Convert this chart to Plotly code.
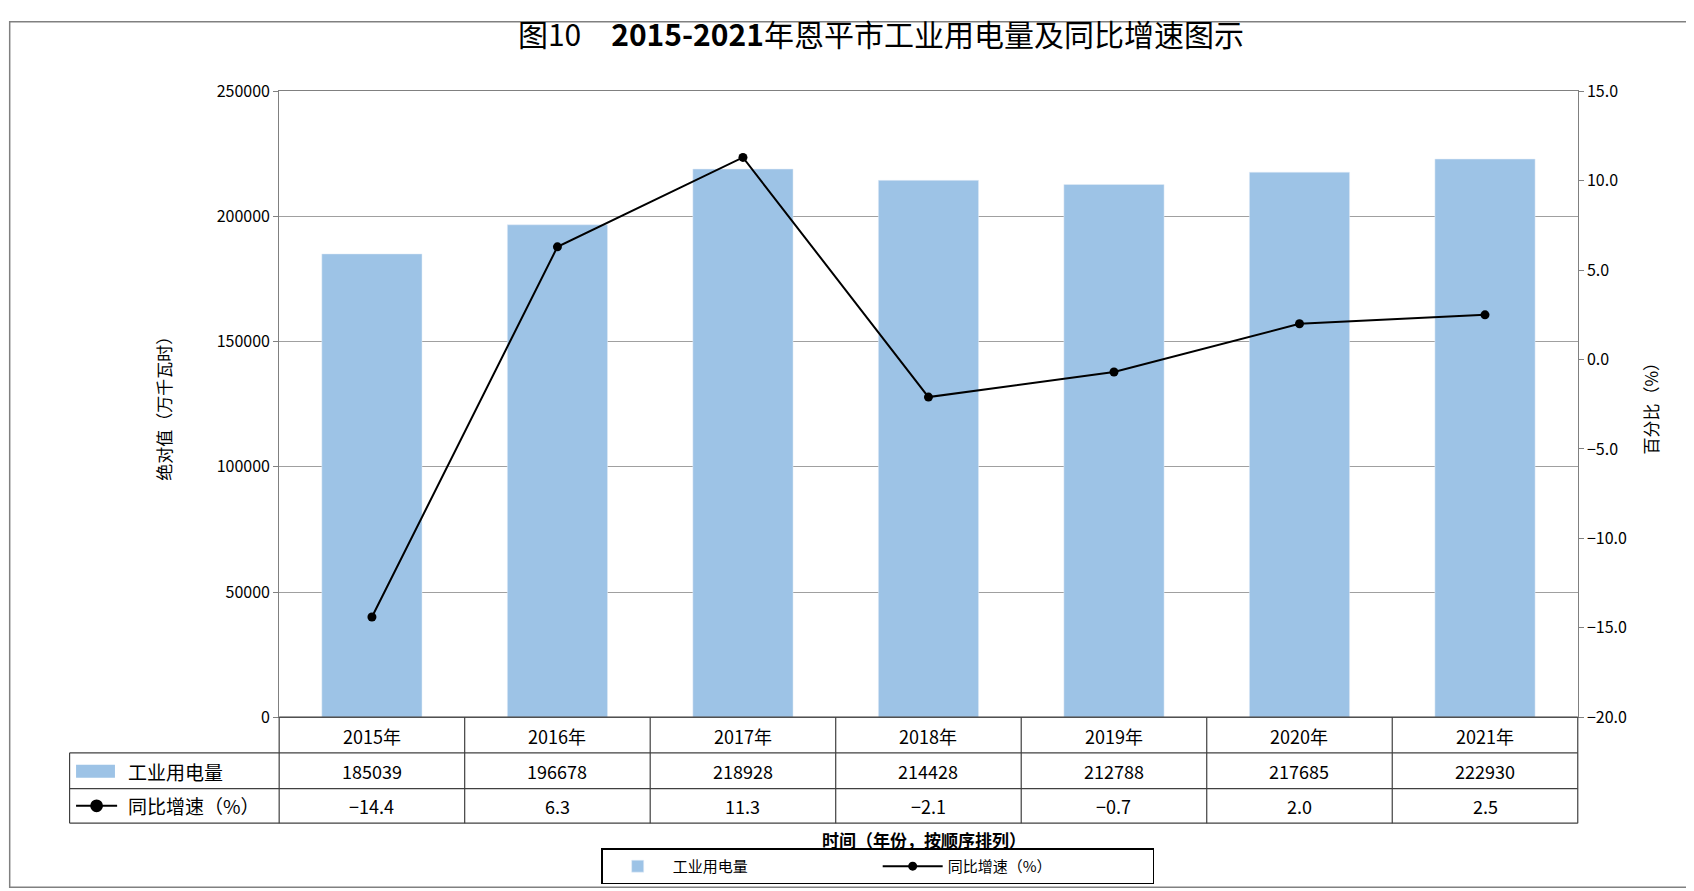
import plotly.graph_objects as go

years = ["2015年", "2016年", "2017年", "2018年", "2019年", "2020年", "2021年"]
power = [185039, 196678, 218928, 214428, 212788, 217685, 222930]
growth = [-14.4, 6.3, 11.3, -2.1, -0.7, 2.0, 2.5]
growth_labels = ["−14.4", "6.3", "11.3", "−2.1", "−0.7", "2.0", "2.5"]

W, H = 1568, 825
def px(x): return (x - 7) / W
def py(y): return 1 - ((y - 20) * 825 / 802) / H

L, R, T, B = 258, 1460, 85, 664
FONT = "Noto Sans CJK SC"

fig = go.Figure()
fig.add_bar(x=years, y=power, name="工业用电量", marker_color="#9dc3e6", width=0.54)
fig.add_scatter(x=years, y=growth, name="同比增速（%）", yaxis="y2", mode="lines+markers",
                line=dict(color="black", width=2), marker=dict(size=9, color="black"))

fig.update_layout(
    width=1694, height=891, margin=dict(l=0, r=0, t=0, b=0),
    plot_bgcolor="white", paper_bgcolor="white",
    font=dict(family=FONT, color="black", size=16),
    title=dict(text="图10　<b>2015-2021</b>年恩平市工业用电量及同比增速图示", x=px(815), y=py(45),
               xanchor="center", yanchor="middle", font=dict(size=30, family=FONT)),
    xaxis=dict(domain=[px(L), px(R)], showticklabels=False, ticks="", showline=True,
               linecolor="#808080", mirror=True),
    yaxis=dict(domain=[py(B), py(T)], range=[0, 250000], dtick=50000, tickformat="d", showgrid=True,
               gridcolor="#a0a0a0", showline=True, linecolor="#808080", ticks="outside",
               ticklen=5, tickcolor="#808080", tickfont=dict(size=16),
               title=dict(text="绝对值（万千瓦时）", font=dict(size=17), standoff=40)),
    yaxis2=dict(overlaying="y", side="right", range=[-20, 15], dtick=5, tickformat=".1f",
                showgrid=False, showline=True, linecolor="#808080", ticks="outside",
                ticklen=5, tickcolor="#808080", tickfont=dict(size=16),
                title=dict(text="百分比（%）", font=dict(size=17), standoff=20)),
    showlegend=True,
    legend=dict(orientation="h", x=px(812), y=py(802), xanchor="center", yanchor="middle",
                bordercolor="black", borderwidth=1.5, font=dict(size=15), entrywidth=200,
                itemwidth=60),
    bargap=0.46,
)

shapes = []
line = dict(color="#404040", width=1.2)
for y in [B, 697, 730, 762]:
    x0 = L if y == B else 64
    shapes.append(dict(type="line", xref="paper", yref="paper", x0=px(x0), x1=px(R), y0=py(y), y1=py(y), line=line))
step = (R - L) / len(years)
for i in range(len(years) + 1):
    x = L + i * step
    shapes.append(dict(type="line", xref="paper", yref="paper", x0=px(x), x1=px(x), y0=py(B), y1=py(762), line=line))
shapes.append(dict(type="line", xref="paper", yref="paper", x0=px(64), x1=px(64), y0=py(697), y1=py(762), line=line))
shapes.append(dict(type="rect", xref="paper", yref="paper", x0=px(70), x1=px(106), y0=py(720), y1=py(708),
                   fillcolor="#9dc3e6", line=dict(width=0)))
shapes.append(dict(type="line", xref="paper", yref="paper", x0=px(70), x1=px(108), y0=py(746), y1=py(746),
                   line=dict(color="black", width=2)))
shapes.append(dict(type="circle", xref="paper", yref="paper", x0=px(84), x1=px(94), y0=py(751), y1=py(741),
                   fillcolor="black", line=dict(color="black")))
shapes.append(dict(type="rect", xref="paper", yref="paper", x0=0.001, x1=0.999, y0=0.001, y1=0.999,
                   line=dict(color="#808080", width=1.5)))
fig.update_layout(shapes=shapes)

ann = []
for i, yr in enumerate(years):
    cx = px(L + (i + 0.5) * step)
    ann.append(dict(x=cx, y=py(681), text=yr))
    ann.append(dict(x=cx, y=py(714), text=str(power[i])))
    ann.append(dict(x=cx, y=py(746), text=growth_labels[i]))
ann.append(dict(x=px(116), y=py(714), text="工业用电量", xanchor="left", font=dict(size=19)))
ann.append(dict(x=px(116), y=py(746), text="同比增速（%）", xanchor="left", font=dict(size=19)))
ann.append(dict(x=px(855), y=py(777), text="<b>时间（年份，按顺序排列）</b>", font=dict(size=17)))
for a in ann:
    a.setdefault("font", dict(size=18))
    a.update(xref="paper", yref="paper", showarrow=False)
    a.setdefault("xanchor", "center")
    a["yanchor"] = "middle"
fig.update_layout(annotations=ann)

fig.write_html("out.html")
